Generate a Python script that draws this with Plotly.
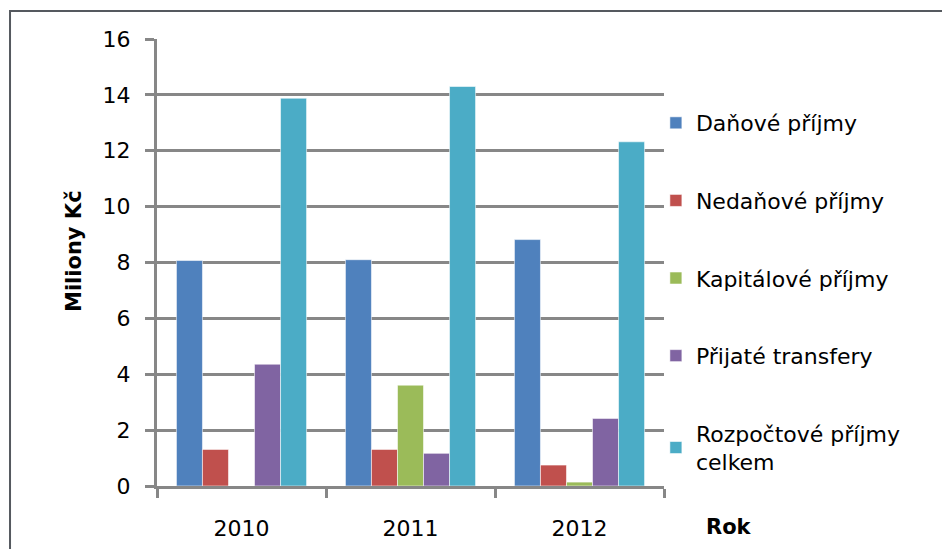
import plotly.graph_objects as go

years = ["2010", "2011", "2012"]
series_names = ["Daňové příjmy", "Nedaňové příjmy", "Kapitálové příjmy",
                "Přijaté transfery", "Rozpočtové příjmy<br>celkem"]
danove = [8.07, 8.10, 8.82]
nedanove = [1.31, 1.31, 0.75]
kapitalove = [0.0, 3.61, 0.14]
transfery = [4.36, 1.17, 2.42]
celkem = [13.88, 14.30, 12.32]
series_values = [danove, nedanove, kapitalove, transfery, celkem]
colors = ["#4F81BD", "#C0504D", "#9BBB59", "#8064A2", "#4BACC6"]
y_ticks = [0, 2, 4, 6, 8, 10, 12, 14, 16]

FONT = "DejaVu Sans"
GRID = "#878787"

fig = go.Figure()
for i, (name, vals, col) in enumerate(zip(series_names, series_values, colors)):
    fig.add_trace(go.Bar(
        x=years, y=vals, name=name, legendgroup=f"g{i}",
        marker=dict(color=col, line=dict(color="rgba(255,255,255,0.55)", width=1)),
    ))

fig.update_layout(
    width=950, height=549,
    margin=dict(l=149, r=294, t=31, b=71, autoexpand=False),
    paper_bgcolor="white", plot_bgcolor="white",
    barmode="group", bargap=0.23, bargroupgap=0,
    font=dict(family=FONT, size=22, color="black"),
    showlegend=True,
    legend=dict(x=0.984, xanchor="left", y=0.859, yanchor="top",
                font=dict(family=FONT, size=22, color="black"),
                tracegroupgap=46, bgcolor="rgba(0,0,0,0)"),
    xaxis=dict(
        type="category", tickson="boundaries", ticks="outside", ticklen=9,
        tickwidth=3, tickcolor=GRID, showline=True, linecolor=GRID, linewidth=3,
        showgrid=False, tickfont=dict(family=FONT, size=22),
        ticklabelstandoff=21, automargin=False,
    ),
    yaxis=dict(
        range=[0, 16], tickvals=y_ticks, ticks="outside", ticklen=9,
        tickwidth=3, tickcolor=GRID, showline=True, linecolor=GRID, linewidth=3,
        showgrid=True, gridcolor=GRID, gridwidth=3, zeroline=False,
        tickfont=dict(family=FONT, size=22), ticklabelstandoff=10,
        automargin=False,
    ),
    annotations=[
        dict(text="<b>Miliony Kč</b>", xref="paper", yref="paper",
             x=-0.1637, y=0.5257, xanchor="center", yanchor="middle",
             textangle=-90, showarrow=False, font=dict(family=FONT, size=21)),
        dict(text="<b>Rok</b>", xref="paper", yref="paper",
             x=1.128, y=-0.0917, xanchor="center", yanchor="middle",
             showarrow=False, font=dict(family=FONT, size=21)),
    ],
    shapes=[
        dict(type="rect", xref="paper", yref="paper",
             x0=-0.2899, x1=1.58, y0=-0.16, y1=1.0626,
             line=dict(color="#55595f", width=2), layer="below"),
    ],
)

fig.write_html("out.html")
